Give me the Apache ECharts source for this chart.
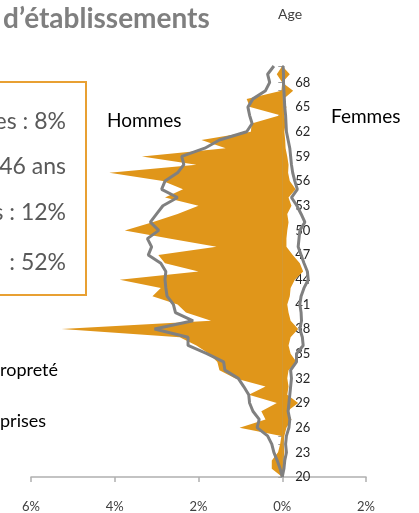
<!DOCTYPE html>
<html><head><meta charset="utf-8">
<script src="https://cdn.jsdelivr.net/npm/echarts@6/dist/echarts.min.js"></script>
<style>html,body{margin:0;padding:0;background:#fff}#c{width:419px;height:513px}</style>
</head><body><div id="c"></div>
<script>
// Ages (category axis, bottom to top)
const ages = [];
for (let a = 20; a <= 70; a++) ages.push(String(a));
// Establishment workforce (orange area), % — men (left) and women (right)
const menArea = [0,0.25,0.25,0.1,0.05,0.02,1.02,0.4,0.5,0.13,0.8,0.4,1.13,1.5,1.55,1.75,2.05,2.45,5.27,1.7,2.3,2.5,3.1,2.9,3.88,2.0,2.8,2.96,1.57,2.7,3.76,3.1,2.5,2.0,2.8,2.37,2.85,4.13,2.05,3.35,1.35,1.93,0.75,0.73,0.05,0.77,0.85,0.02,0,0.13,0];
const womenArea = [0,0.05,0.02,0.05,0.03,0.05,0.1,0.22,0.12,0.38,0.12,0.15,0.12,0.15,0.34,0.2,0.15,0.2,0.38,0.2,0.15,0.12,0.18,0.2,0.3,0.5,0.42,0.25,0.1,0.1,0.12,0.15,0.12,0.22,0.15,0.32,0.18,0.14,0.15,0.12,0.08,0.07,0.05,0.08,0.05,0.1,0.03,0.26,0,0.18,0];
// Reference distribution (grey line), %
const menLine = [0,0.05,0.12,0.2,0.25,0.35,0.6,0.55,0.7,0.78,0.8,0.92,1.05,1.37,1.4,1.8,2.25,2.25,3.05,2.13,2.55,2.6,2.75,2.78,2.8,2.78,2.9,3.2,3.12,3.22,2.95,3.15,3.0,2.85,2.5,2.88,2.8,2.5,2.35,2.4,1.85,1.5,0.85,0.72,0.78,0.82,0.7,0.4,0.3,0.35,0.2];
const womenLine = [0,0.04,0.06,0.1,0.08,0.1,0.16,0.18,0.14,0.16,0.18,0.2,0.22,0.2,0.34,0.34,0.5,0.48,0.42,0.46,0.45,0.42,0.45,0.52,0.62,0.6,0.52,0.45,0.38,0.4,0.42,0.54,0.45,0.35,0.22,0.36,0.3,0.25,0.22,0.2,0.18,0.14,0.1,0.09,0.08,0.06,0.05,0.04,0.03,0.03,0.02];
// Axis ticks
const xTicks = { min: -6, max: 2, interval: 2 };
const boxLines = ['es : 8%', '46 ans', 's : 12%', ': 52%'];
const sideLines = ['ropreté', 'prises'];

const ORANGE = '#E0961A';
const GREY = '#808080';
const FONT = 'Lato';
const GRID_LEFT = 31, GRID_RIGHT = 53;
const W = 419;
// place the age axis where the value axis is zero
const plotW = W - GRID_LEFT - GRID_RIGHT;
const zeroOffset = plotW * (0 - xTicks.min) / (xTicks.max - xTicks.min);

const chart = echarts.init(document.getElementById('c'));
const toPairs = (arr, sign) => arr.map((v, i) => [sign * v, i]);

chart.setOption({
  animation: false,
  grid: { left: GRID_LEFT, right: GRID_RIGHT, top: 66, bottom: 35 },
  xAxis: {
    type: 'value', min: xTicks.min, max: xTicks.max, interval: xTicks.interval,
    splitLine: { show: false },
    axisLine: { show: true, onZero: false, lineStyle: { color: '#b0b0b0', width: 1.5 } },
    axisTick: { show: true, length: 5, lineStyle: { color: '#b0b0b0', width: 1.5 } },
    axisLabel: { formatter: v => Math.abs(v) + '%', color: '#404040', fontFamily: FONT, fontSize: 13, margin: 23 }
  },
  yAxis: {
    type: 'category', data: ages, boundaryGap: false,
    position: 'left', offset: -zeroOffset,
    axisLine: { show: true, onZero: false, lineStyle: { color: '#a0a0a0', width: 2 } },
    axisTick: { show: true, interval: 0, length: 4, lineStyle: { color: '#a0a0a0', width: 1 } },
    axisLabel: { inside: true, interval: 2, margin: 13, color: '#262626', fontFamily: FONT, fontSize: 13 },
    splitLine: { show: false }
  },
  series: [
    { type: 'line', data: toPairs(menArea, -1), symbol: 'none', lineStyle: { width: 0 }, areaStyle: { color: ORANGE, opacity: 1 }, z: 1 },
    { type: 'line', data: toPairs(womenArea, 1), symbol: 'none', lineStyle: { width: 0 }, areaStyle: { color: ORANGE, opacity: 1 }, z: 1 },
    { type: 'line', data: toPairs(menLine, -1), symbol: 'none', lineStyle: { color: GREY, width: 3 }, z: 3 },
    { type: 'line', data: toPairs(womenLine, 1), symbol: 'none', lineStyle: { color: GREY, width: 3 }, z: 3 }
  ],
  graphic: [
    { type: 'text', x: 3, y: 19, style: { text: 'd’établissements', font: 'bold 28px ' + FONT, fill: '#7f7f7f', verticalAlign: 'middle' } },
    { type: 'text', x: 278, y: 14, style: { text: 'Age', font: '14px ' + FONT, fill: '#404040', verticalAlign: 'middle' } },
    { type: 'text', x: 107, y: 121, style: { text: 'Hommes', font: '19px ' + FONT, fill: '#000', verticalAlign: 'middle' } },
    { type: 'text', x: 331, y: 117, style: { text: 'Femmes', font: '19px ' + FONT, fill: '#000', verticalAlign: 'middle' } },
    { type: 'rect', shape: { x: -5, y: 82, width: 91, height: 213 }, style: { fill: '#fff', stroke: '#E8A033', lineWidth: 2 }, z: 10 },
    { type: 'text', x: 66, y: 122, z: 11, style: { text: boxLines[0], font: '23px ' + FONT, fill: '#595959', align: 'right', verticalAlign: 'middle' } },
    { type: 'text', x: 66, y: 167, z: 11, style: { text: boxLines[1], font: '23px ' + FONT, fill: '#595959', align: 'right', verticalAlign: 'middle' } },
    { type: 'text', x: 66, y: 213, z: 11, style: { text: boxLines[2], font: '23px ' + FONT, fill: '#595959', align: 'right', verticalAlign: 'middle' } },
    { type: 'text', x: 66, y: 263, z: 11, style: { text: boxLines[3], font: '23px ' + FONT, fill: '#595959', align: 'right', verticalAlign: 'middle' } },
    { type: 'text', x: 0, y: 370, style: { text: sideLines[0], font: '18px ' + FONT, fill: '#000', verticalAlign: 'middle' } },
    { type: 'text', x: 0, y: 421, style: { text: sideLines[1], font: '18px ' + FONT, fill: '#000', verticalAlign: 'middle' } }
  ]
});
</script></body></html>
